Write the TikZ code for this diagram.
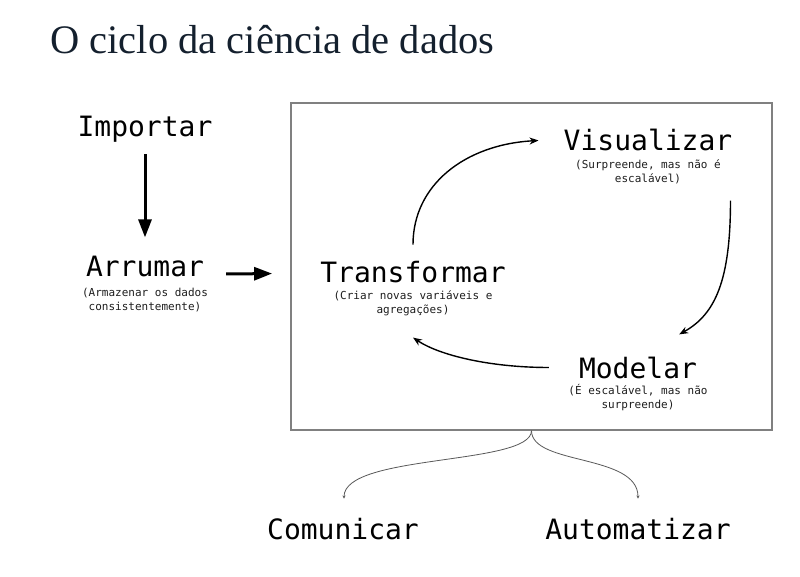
\documentclass[tikz,border=0pt]{standalone}
\usepackage{fontspec}
\setmainfont{Liberation Serif}
\newfontfamily\monofont{DejaVu Sans Mono}
\usetikzlibrary{positioning,arrows.meta,calc}
\definecolor{titulo}{HTML}{14202E}
\definecolor{cinza}{HTML}{1E1E1E}
\definecolor{moldura}{HTML}{808080}

\begin{document}
\begin{tikzpicture}[x=1pt,y=-1pt,
  etapa/.style={font=\monofont\fontsize{28}{32}\selectfont, inner sep=0pt, anchor=base},
  nota/.style={font=\monofont\fontsize{11}{14}\selectfont, text=cinza, align=center, inner sep=0pt},
  seta/.style={-{Triangle[length=18pt,width=13pt]}, line width=3pt},
  ciclo/.style={-{Stealth[length=9pt,width=7pt]}, line width=1.4pt},
  ramo/.style={-{Stealth[length=3pt,width=3pt]}, draw=black!65, line width=0.8pt}]
\useasboundingbox[fill=white] (0,0) rectangle (800,576);

% titulo
\node[font=\fontsize{40.5}{44}\selectfont, text=titulo, anchor=base west, inner sep=0pt] (cabecalho) at (50,53) {O ciclo da ciência de dados};

% quadro do ciclo
\node[draw=moldura, line width=1.2pt, minimum width=481pt, minimum height=327pt] (quadro) at (531.5,266.5) {};

% etapas
\node[etapa] (imp) at (145,136) {Importar};
\node[etapa] (arr) at (145,276) {Arrumar};
\node[nota] (arr-nota) at (145,300) {(Armazenar os dados\\consistentemente)};
\node[etapa] (trans) at (413,282) {Transformar};
\node[nota] (trans-nota) at (413,303) {(Criar novas variáveis e\\agregações)};
\node[etapa] (vis) at (648,150) {Visualizar};
\node[nota] (vis-nota) at (648,171.5) {(Surpreende, mas não é\\escalável)};
\node[etapa] (mod) at (638,378) {Modelar};
\node[nota] (mod-nota) at (638,398) {(É escalável, mas não\\surpreende)};
\node[etapa] (com) at (343,539) {Comunicar};
\node[etapa] (aut) at (638,539) {Automatizar};

% setas
\draw[seta, shorten <=12pt, shorten >=18pt] (imp.south) -- (arr.north);
\draw[seta] ($(arr.east)+(22,8)$) -- ($(trans.west)+(-48,2)$);

% ciclo
\draw[ciclo] ($(trans.north)+(0,-16)$) .. controls +(0,-60) and +(-73,4) .. ($(vis.west)+(-25,1)$);
\draw[ciclo] ($(vis.south east)+(-2,50)$) .. controls +(0,80) and +(36,-20) .. ($(mod.north east)+(-18,-22)$);
\draw[ciclo] ($(mod.west)+(-30,0)$) .. controls +(-58,0) and +(27,18) .. ($(trans.south)+(0,55)$);

% saidas
\draw[ramo] (quadro.south) .. controls +(0,35) and +(0,-45) .. ($(com.north)+(1,-19)$);
\draw[ramo] (quadro.south) .. controls +(0,35) and +(0,-45) .. ($(aut.north)+(0,-19)$);
\end{tikzpicture}
\end{document}
